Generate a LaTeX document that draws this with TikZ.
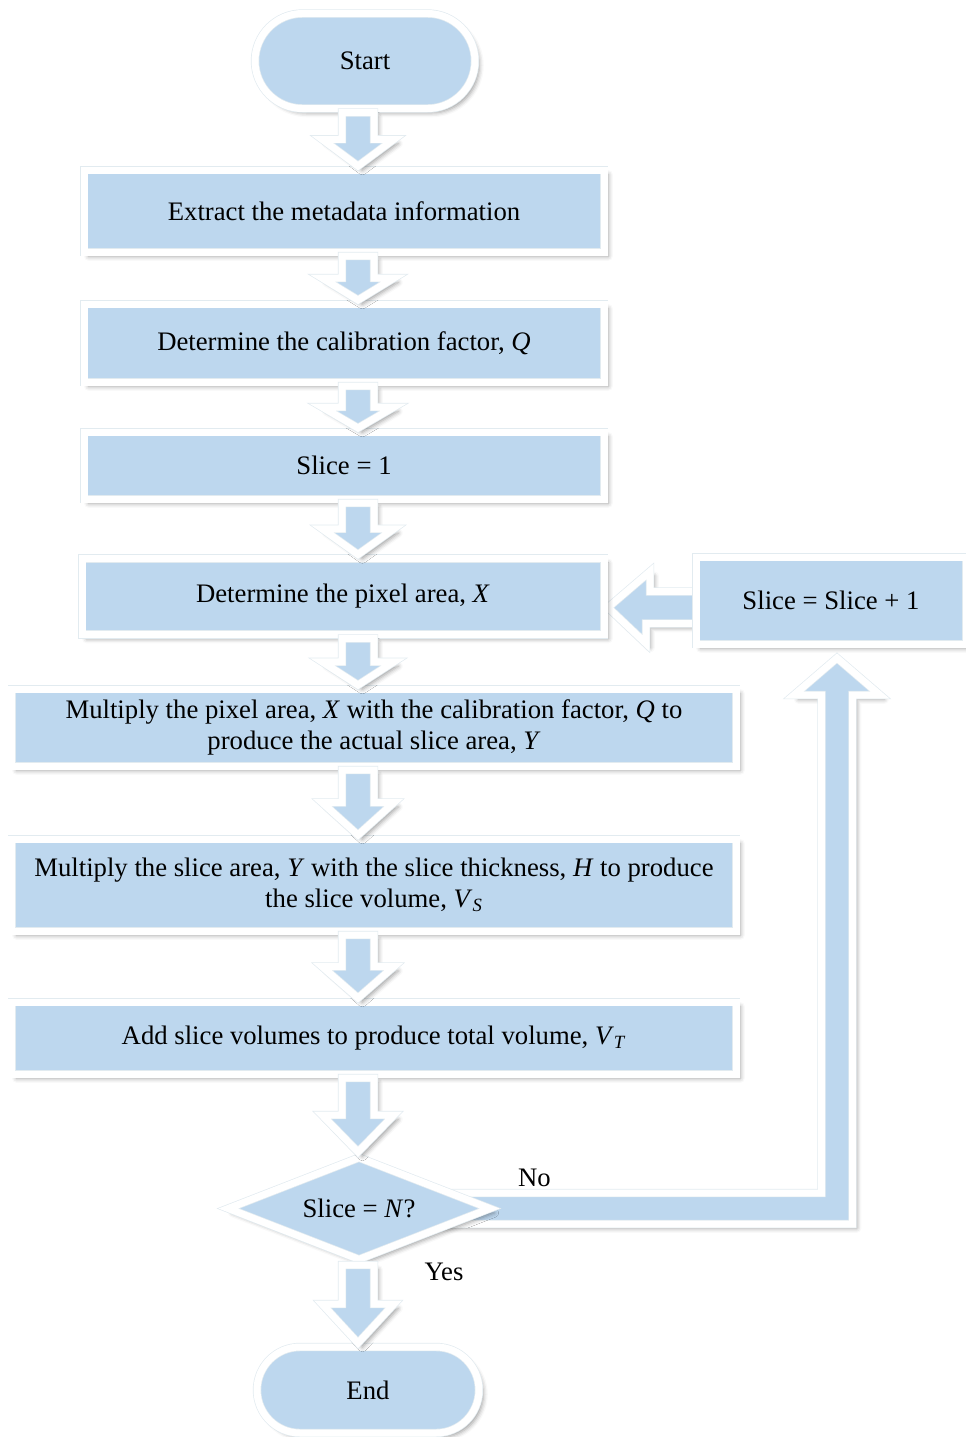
\documentclass[tikz,border=0pt]{standalone}
\usepackage{fontspec}
\setmainfont{Liberation Serif}
\usetikzlibrary{calc,positioning,shapes.geometric,shapes.misc,shadows.blur}

\definecolor{boxblue}{HTML}{BDD7EE}
\definecolor{rimgray}{HTML}{E2EBF0}

\pgfdeclarelayer{back}
\pgfsetlayers{back,main}

\tikzset{
  rim/.style={draw=rimgray, line width=0.4pt, double=white, double distance=0.14cm},
  softshadow/.style={blur shadow={shadow xshift=2.5pt, shadow yshift=-2.5pt,
      shadow blur radius=2.5pt, shadow opacity=38}},
  flowbox/.style={rectangle, fill=boxblue, rim, softshadow, align=center,
    inner sep=2pt, outer sep=0.08cm, font=\fontsize{15.2}{17.8}\selectfont},
  terminal/.style={flowbox, rounded rectangle},
  decision/.style={flowbox, diamond, shape aspect=2.7, inner sep=0pt},
  blockarrow/.style={fill=boxblue, rim, line join=miter, softshadow},
  answer/.style={font=\fontsize{15.2}{17.8}\selectfont}
}

% downward block arrow between two nodes, on the spine
\newcommand{\flowdown}[2]{%
  \path[blockarrow] let \p1=(spine |- #1.south), \p2=(spine |- #2.north),
      \p3=($(\p1)!0.5!(\p2)$) in
    (\x1-0.32cm,\y1) -- (\x1+0.32cm,\y1) -- (\x1+0.32cm,\y3) -- (\x1+0.72cm,\y3)
    -- (\p2) -- (\x1-0.72cm,\y3) -- (\x1-0.32cm,\y3) -- cycle;}

\begin{document}
\begin{tikzpicture}
  \useasboundingbox (0,0) rectangle (19.3,-28.74);
  \coordinate (spine) at (7.16,0);

  % main column
  \node[terminal, minimum width=4.54cm, minimum height=1.9cm] (start) at (7.3,-1.22) {Start};
  \node[flowbox, minimum width=10.4cm, minimum height=1.64cm] (extract) at (6.88,-4.22)
    {Extract the metadata information};
  \node[flowbox, minimum width=10.4cm, minimum height=1.56cm] (calib) at (6.88,-6.86)
    {Determine the calibration factor, \textit{Q}};
  \node[flowbox, minimum width=10.4cm, minimum height=1.34cm] (slicea) at (6.88,-9.31)
    {Slice = 1};
  \node[flowbox, minimum width=10.44cm, minimum height=1.52cm] (pixarea) at (6.86,-11.93)
    {Determine the pixel area, \textit{X}};
  \node[flowbox, minimum width=14.48cm, minimum height=1.54cm] (mulpix) at (7.48,-14.55)
    {Multiply the pixel area, \textit{X} with the calibration factor, \textit{Q} to\\
     produce the actual slice area, \textit{Y}};
  \node[flowbox, minimum width=14.48cm, minimum height=1.84cm] (mulslice) at (7.48,-17.7)
    {Multiply the slice area, \textit{Y} with the slice thickness, \textit{H} to produce\\
     the slice volume, \textit{V}\textsubscript{\textit{S}}};
  \node[flowbox, minimum width=14.48cm, minimum height=1.44cm] (addvol) at (7.48,-20.76)
    {Add slice volumes to produce total volume, \textit{V}\textsubscript{\textit{T}}};
  \node[decision, minimum width=5.3cm, minimum height=2.1cm] (decide) at (7.18,-24.17)
    {Slice = \textit{N}?};
  \node[terminal, minimum width=4.58cm, minimum height=1.72cm] (finish) at (7.36,-27.8) {End};

  % loop back
  \node[flowbox, minimum width=5.4cm, minimum height=1.74cm] (incr) at (16.62,-12.01)
    {Slice = Slice + 1};

  \flowdown{start}{extract}
  \flowdown{extract}{calib}
  \flowdown{calib}{slicea}
  \flowdown{slicea}{pixarea}
  \flowdown{pixarea}{mulpix}
  \flowdown{mulpix}{mulslice}
  \flowdown{mulslice}{addvol}
  \flowdown{addvol}{decide}
  \flowdown{decide}{finish}

  \begin{pgfonlayer}{back}
    % Slice + 1 back into the pixel area
    \path[blockarrow] let \p1=([xshift=0.3cm,yshift=-0.14cm]incr.west),
        \p2=(pixarea.east |- \p1) in
      (\p1) ++(0,0.32cm) -- ++(-1.14cm,0) -- ++(0,0.4cm) -- (\p2) -- ++(0.76cm,-0.72cm)
      -- ++(0,0.4cm) -- ++(1.14cm,0) -- cycle;
    % No branch, drawn under the decision
    \path[blockarrow] let \p1=(decide.center), \p2=([xshift=0.12cm,yshift=-0.2cm]incr.south) in
      (\x1+1.6cm,\y1+0.31cm) -- (\x2-0.31cm,\y1+0.31cm) -- (\x2-0.31cm,\y2-0.74cm)
      -- (\x2-0.86cm,\y2-0.74cm) -- (\p2) -- (\x2+0.86cm,\y2-0.74cm)
      -- (\x2+0.31cm,\y2-0.74cm) -- (\x2+0.31cm,\y1-0.31cm) -- (\x1+1.6cm,\y1-0.31cm) -- cycle;
  \end{pgfonlayer}

  \node[answer] (no) at ([xshift=0.78cm,yshift=0.62cm]decide.east) {No};
  \node[answer] (yes) at ([xshift=1.7cm,yshift=-0.14cm]decide.south) {Yes};
\end{tikzpicture}
\end{document}
